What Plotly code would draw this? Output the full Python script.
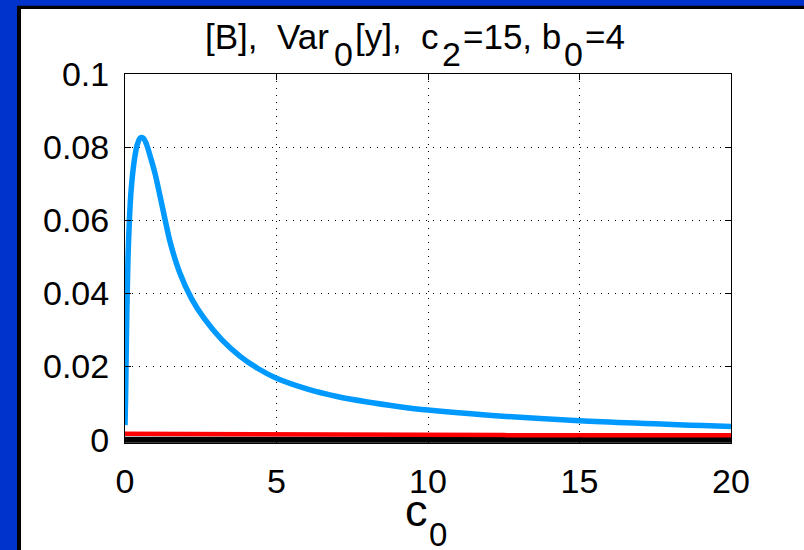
import plotly.graph_objects as go

# data
c0_blue = [0.0, 0.02, 0.05, 0.1, 0.15, 0.2, 0.3, 0.4, 0.5, 0.6, 0.7, 0.85, 1.0, 1.25, 1.5, 1.8, 2.2,
           2.6, 3.2, 3.8, 4.4, 5, 6, 7, 8, 9, 10, 12, 15, 20]
var_blue = [0.004, 0.012, 0.03, 0.05, 0.061, 0.068, 0.076, 0.0805, 0.0825, 0.0825, 0.081, 0.077, 0.0725,
            0.063, 0.0537, 0.0458, 0.0385, 0.0333, 0.0273, 0.0228, 0.0194, 0.0168, 0.0139, 0.0118,
            0.0103, 0.0091, 0.0081, 0.0067, 0.0052, 0.0036]
c0_red = [0, 4.2, 4.3, 12.5, 12.6, 20]
var_red = [0.0016, 0.0016, 0.0013, 0.0013, 0.0012, 0.0012]
c0_black = [0, 20]
var_black = [0, 0]

xticks = [0, 5, 10, 15, 20]
yticks = [0, 0.02, 0.04, 0.06, 0.08, 0.1]
yticklabels = ["0", "0.02", "0.04", "0.06", "0.08", "0.1"]

# title pieces: (text, is_subscript)
title_parts = [("[B],  Var", False), ("0", True), ("[y],  c", False), ("2", True),
               ("=15, b", False), ("0", True), ("=4", False)]
xtitle_parts = [("c", False), ("0", True)]

BLUE_BG = "#0033cc"
FONT = "Liberation Sans, Arial, sans-serif"

# Arial / Liberation Sans advance widths (1/1000 em)
ADV = {"[": 278, "]": 278, "B": 667, ",": 278, " ": 278, "V": 667, "a": 556, "r": 333,
       "y": 500, "c": 500, "=": 584, "b": 556, "0": 556, "1": 556, "2": 556, "4": 556, "5": 556}

def text_w(s, size):
    return sum(ADV.get(ch, 556) for ch in s) * size / 1000.0

fig = go.Figure()
fig.add_trace(go.Scatter(x=c0_black, y=var_black, mode="lines",
                         line=dict(color="black", width=6), showlegend=False))
fig.add_trace(go.Scatter(x=c0_red, y=var_red, mode="lines",
                         line=dict(color="#ff0000", width=4.5), showlegend=False))
fig.add_trace(go.Scatter(x=c0_blue, y=var_blue, mode="lines",
                         line=dict(color="#0099ff", width=5.5, shape="spline", smoothing=0.8),
                         showlegend=False))

L, R, T, B = 125, 73, 74, 107
W, H = 804, 550
pw, ph = W - L - R, H - T - B

def px_x(x):
    return (x - L) / pw

def px_y(y):
    return (H - B - y) / ph

# black border + white panel
fig.add_shape(type="rect", xref="paper", yref="paper",
              x0=px_x(17), x1=px_x(820), y0=px_y(570), y1=px_y(5.7),
              fillcolor="black", line=dict(width=0), layer="below")
fig.add_shape(type="rect", xref="paper", yref="paper",
              x0=px_x(21), x1=px_x(820), y0=px_y(570), y1=px_y(9),
              fillcolor="white", line=dict(width=0), layer="below")

def place_text(parts, x_start, base_main, base_sub, size_main, size_sub, gap):
    x = x_start
    for txt, is_sub in parts:
        size = size_sub if is_sub else size_main
        base = base_sub if is_sub else base_main
        if is_sub:
            x += gap
        mid = base - 0.3465 * size
        fig.add_annotation(text=txt, xref="paper", yref="paper",
                           x=px_x(x), y=px_y(mid), xanchor="left", yanchor="middle",
                           showarrow=False, borderpad=0,
                           font=dict(family=FONT, size=size, color="black"))
        x += text_w(txt, size)
        if is_sub:
            x += gap

# title
place_text(title_parts, 204, 49, 66, 35, 34, 2.5)
# x-axis title
place_text(xtitle_parts, 404, 526, 546, 45, 33, 1.5)

axis_common = dict(showline=True, linecolor="black", linewidth=1, mirror="ticks",
                   ticks="inside", ticklen=6, tickcolor="black", tickwidth=1,
                   showgrid=True, gridcolor="black", gridwidth=1, griddash="1px,6px",
                   zeroline=False, tickfont=dict(family=FONT, size=34, color="black"))

fig.update_xaxes(range=[0, 20], tickvals=xticks, ticktext=[str(v) for v in xticks],
                 ticklabelstandoff=8, **axis_common)
fig.update_yaxes(range=[-0.0009, 0.1], tickvals=yticks, ticktext=yticklabels,
                 ticklabelstandoff=8, **axis_common)

fig.update_layout(
    width=W, height=H,
    margin=dict(l=L, r=R, t=T, b=B, autoexpand=False),
    paper_bgcolor=BLUE_BG, plot_bgcolor="white",
    font=dict(family=FONT),
)

fig.write_html("out.html")
